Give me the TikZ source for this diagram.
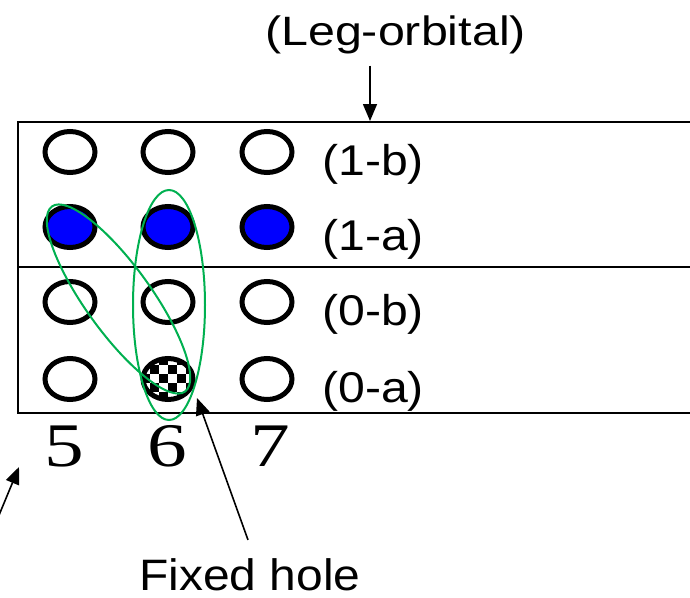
\documentclass[tikz,border=0pt]{standalone}
\usepackage{fontspec}
\setmainfont{Liberation Sans}
\newfontfamily\serifnum{Liberation Serif}
\usetikzlibrary{arrows.meta,shapes.geometric,calc}
\definecolor{orbblue}{RGB}{0,0,255}
\definecolor{grpgreen}{RGB}{0,176,80}
\tikzset{
  orb/.style={ellipse, draw=black, line width=5pt, minimum width=50pt, minimum height=41pt, inner sep=0pt},
  occ/.style={orb, fill=orbblue},
  lbl/.style={anchor=base west, inner sep=0pt, font=\fontsize{43}{50}\selectfont},
  num/.style={anchor=base, inner sep=0pt, font=\serifnum\fontsize{62}{70}\selectfont},
  frame/.style={line width=2.3pt},
  pointer/.style={line width=1.6pt, -{Triangle[width=14pt,length=17pt]}},
  group/.style={draw=grpgreen, line width=2pt},
}
\begin{document}
\begin{tikzpicture}[x=1pt,y=-1pt]
\useasboundingbox (0,0) rectangle (690,597);
% frame
\draw[frame] (692,122) -- (18,122) -- (18,413) -- (692,413);
\draw[frame] (18,267) -- (692,267);
% checker fill of the fixed hole
\begin{scope}
  \clip (168,379) ellipse [x radius=25pt, y radius=20.5pt];
  \fill[white] (132,347) rectangle (204,411);
  \foreach \i in {0,...,7}{
    \foreach \j in {0,...,6}{
      \pgfmathtruncatemacro\chk{mod(\i+\j,2)}
      \ifnum\chk=0
        \fill[black] (132+9*\i,347+9*\j) rectangle ++(9,9);
      \fi
    }
  }
\end{scope}
% orbitals
\node[orb] (c5r1b) at (70,152) {};
\node[orb] (c6r1b) at (168,152) {};
\node[orb] (c7r1b) at (267,152) {};
\node[occ] (c5r1a) at (70,227) {};
\node[occ] (c6r1a) at (168,227) {};
\node[occ] (c7r1a) at (267,227) {};
\node[orb] (c5r0b) at (70,302) {};
\node[orb] (c6r0b) at (168,302) {};
\node[orb] (c7r0b) at (267,302) {};
\node[orb] (c5r0a) at (70,379) {};
\node[orb] (c6r0a) at (168,379) {};
\node[orb] (c7r0a) at (267,379) {};
% row labels
\node[lbl] (l1b) at (322,175) {\scalebox{1.12}[1]{(1-b)}};
\node[lbl] (l1a) at (322,250) {\scalebox{1.12}[1]{(1-a)}};
\node[lbl] (l0b) at (322,325) {\scalebox{1.12}[1]{(0-b)}};
\node[lbl] (l0a) at (322,402) {\scalebox{1.12}[1]{(0-a)}};
% site numbers
\node[num] (n5) at (64.5,466) {\scalebox{1.28}[1]{5}};
\node[num] (n6) at (167,466) {\scalebox{1.28}[1]{6}};
\node[num] (n7) at (270,466) {\scalebox{1.28}[1]{7}};
% green groupings
\draw[group] (169,305) ellipse [x radius=36pt, y radius=115pt];
\draw[group, rotate around={-54.3:(118.5,299)}] (118.5,299) ellipse [x radius=114pt, y radius=33pt];
% top label and arrow
\node[anchor=base, inner sep=0pt, font=\fontsize{41}{48}\selectfont] (leg) at (395.5,45) {\scalebox{1.18}[1]{(Leg-orbital)}};
\coordinate (legtip) at (370,121);
\draw[pointer, shorten <=12pt] (leg.south -| legtip) -- (legtip);
% fixed hole label and arrow
\node[anchor=base, inner sep=0pt, font=\fontsize{44}{50}\selectfont] (fh) at (250,590) {\scalebox{1.09}[1]{Fixed hole}};
\coordinate (fhtip) at (197,398);
\draw[pointer] ($(fh.north)+(-2,-18)$) -- (fhtip);
% left arrow
\coordinate (lefttail) at (-3,520);
\coordinate (lefttip) at (19,467);
\draw[pointer] (lefttail) -- (lefttip);
\end{tikzpicture}
\end{document}
